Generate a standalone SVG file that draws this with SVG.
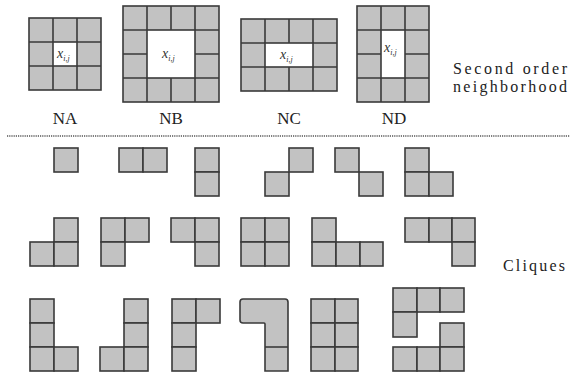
<svg xmlns="http://www.w3.org/2000/svg" width="571" height="373" viewBox="0 0 571 373">
<style>
.c{fill:#c2c2c2;stroke:#3a3a3a;stroke-width:1.6}
.w{fill:#ffffff;stroke:#3a3a3a;stroke-width:1.6}
.lb{font-size:17px;fill:#222;text-anchor:middle}
.rt{font-size:16px;fill:#222}
.xv{font-size:14px;font-style:italic;fill:#333}
.xs{font-size:8px}
.ln{fill:none;stroke:#3a3a3a;stroke-width:1.6}
</style>
<rect width="571" height="373" fill="#ffffff"/>

<g id="NA">
<rect class="c" x="29" y="18" width="72" height="72"/>
<rect class="w" x="53" y="42" width="24" height="24"/>
<path class="ln" d="M53,18V42M77,18V42M53,66V90M77,66V90M29,42H53M29,66H53M77,42H101M77,66H101"/>
<text class="xv" font-family="Liberation Serif, DejaVu Serif, serif" x="57" y="58">x<tspan class="xs" dy="3">i,j</tspan></text>
<text class="lb" font-family="Liberation Serif, DejaVu Serif, serif" x="65" y="124">NA</text>
</g>

<g id="NB">
<rect class="c" x="123" y="6" width="96" height="96"/>
<rect class="w" x="147" y="30" width="48" height="48"/>
<path class="ln" d="M147,6V30M171,6V30M195,6V30M147,78V102M171,78V102M195,78V102M123,30H147M123,54H147M123,78H147M195,30H219M195,54H219M195,78H219"/>
<text class="xv" font-family="Liberation Serif, DejaVu Serif, serif" x="162" y="58">x<tspan class="xs" dy="3">i,j</tspan></text>
<text class="lb" font-family="Liberation Serif, DejaVu Serif, serif" x="171" y="124">NB</text>
</g>

<g id="NC">
<rect class="c" x="241" y="19" width="96" height="72"/>
<rect class="w" x="265" y="43" width="48" height="24"/>
<path class="ln" d="M265,19V43M289,19V43M313,19V43M265,67V91M289,67V91M313,67V91M241,43H265M241,67H265M313,43H337M313,67H337"/>
<text class="xv" font-family="Liberation Serif, DejaVu Serif, serif" x="280" y="59">x<tspan class="xs" dy="3">i,j</tspan></text>
<text class="lb" font-family="Liberation Serif, DejaVu Serif, serif" x="289" y="124">NC</text>
</g>

<g id="ND">
<rect class="c" x="357" y="6" width="72" height="96"/>
<rect class="w" x="381" y="30" width="24" height="48"/>
<path class="ln" d="M381,6V30M405,6V30M381,78V102M405,78V102M357,30H381M357,54H381M357,78H381M405,30H429M405,54H429M405,78H429"/>
<text class="xv" font-family="Liberation Serif, DejaVu Serif, serif" x="384" y="52">x<tspan class="xs" dy="3">i,j</tspan></text>
<text class="lb" font-family="Liberation Serif, DejaVu Serif, serif" x="394" y="124">ND</text>
</g>

<g id="label-second-order">
<text class="rt" font-family="Liberation Serif, DejaVu Serif, serif" x="453" y="74" textLength="114" lengthAdjust="spacing">Second order</text>
<text class="rt" font-family="Liberation Serif, DejaVu Serif, serif" x="453" y="92" textLength="114" lengthAdjust="spacing">neighborhood</text>
</g>

<line x1="7" y1="136" x2="570" y2="136" stroke="#555" stroke-width="1.5" stroke-dasharray="1.2 1"/>

<g id="clique-r1-1"><rect class="c" x="54" y="148" width="24" height="24"/></g>
<g id="clique-r1-2"><rect class="c" x="119" y="148" width="24" height="24"/><rect class="c" x="143" y="148" width="24" height="24"/></g>
<g id="clique-r1-3"><rect class="c" x="195" y="148" width="24" height="24"/><rect class="c" x="195" y="172" width="24" height="24"/></g>
<g id="clique-r1-4"><rect class="c" x="265" y="172" width="24" height="24"/><rect class="c" x="289" y="148" width="24" height="24"/></g>
<g id="clique-r1-5"><rect class="c" x="335" y="148" width="24" height="24"/><rect class="c" x="359" y="172" width="24" height="24"/></g>
<g id="clique-r1-6"><rect class="c" x="405" y="148" width="24" height="24"/><rect class="c" x="405" y="172" width="24" height="24"/><rect class="c" x="429" y="172" width="24" height="24"/></g>

<g id="clique-r2-1"><rect class="c" x="54" y="218" width="24" height="24"/><rect class="c" x="30" y="242" width="24" height="24"/><rect class="c" x="54" y="242" width="24" height="24"/></g>
<g id="clique-r2-2"><rect class="c" x="101" y="218" width="24" height="24"/><rect class="c" x="125" y="218" width="24" height="24"/><rect class="c" x="101" y="242" width="24" height="24"/></g>
<g id="clique-r2-3"><rect class="c" x="171" y="218" width="24" height="24"/><rect class="c" x="195" y="218" width="24" height="24"/><rect class="c" x="195" y="242" width="24" height="24"/></g>
<g id="clique-r2-4"><rect class="c" x="241" y="218" width="24" height="24"/><rect class="c" x="265" y="218" width="24" height="24"/><rect class="c" x="241" y="242" width="24" height="24"/><rect class="c" x="265" y="242" width="24" height="24"/></g>
<g id="clique-r2-5"><rect class="c" x="312" y="218" width="24" height="24"/><rect class="c" x="312" y="242" width="24" height="24"/><rect class="c" x="336" y="242" width="24" height="24"/><rect class="c" x="360" y="242" width="23" height="24"/></g>
<g id="clique-r2-6"><rect class="c" x="405" y="218" width="24" height="24"/><rect class="c" x="429" y="218" width="23" height="24"/><rect class="c" x="452" y="218" width="23" height="24"/><rect class="c" x="452" y="242" width="23" height="24"/></g>

<g id="label-cliques"><text class="rt" font-family="Liberation Serif, DejaVu Serif, serif" x="503" y="271" font-size="17" textLength="62" lengthAdjust="spacing">Cliques</text></g>

<g id="clique-r3-1"><rect class="c" x="30" y="299" width="24" height="24"/><rect class="c" x="30" y="323" width="24" height="24"/><rect class="c" x="30" y="347" width="24" height="24"/><rect class="c" x="54" y="347" width="24" height="24"/></g>
<g id="clique-r3-2"><rect class="c" x="124" y="299" width="24" height="24"/><rect class="c" x="124" y="323" width="24" height="24"/><rect class="c" x="100" y="347" width="24" height="24"/><rect class="c" x="124" y="347" width="24" height="24"/></g>
<g id="clique-r3-3"><rect class="c" x="172" y="299" width="24" height="24"/><rect class="c" x="196" y="299" width="24" height="24"/><rect class="c" x="172" y="323" width="24" height="24"/><rect class="c" x="172" y="347" width="24" height="24"/></g>
<g id="clique-r3-4"><path class="c" d="M243,299H285Q288,299 288,302V371H265V324Q265,323 264,323H243Q240,323 240,320V302Q240,299 243,299Z"/><path class="ln" d="M265,347H288"/></g>
<g id="clique-r3-5"><rect class="c" x="311" y="299" width="24" height="24"/><rect class="c" x="335" y="299" width="23" height="24"/><rect class="c" x="311" y="323" width="24" height="24"/><rect class="c" x="335" y="323" width="23" height="24"/><rect class="c" x="311" y="347" width="24" height="24"/><rect class="c" x="335" y="347" width="23" height="24"/></g>
<g id="clique-r3-6"><rect class="c" x="393" y="288" width="24" height="24"/><rect class="c" x="417" y="288" width="23" height="24"/><rect class="c" x="440" y="288" width="24" height="24"/><rect class="c" x="393" y="312" width="24" height="25"/><rect class="c" x="440" y="323" width="24" height="24"/><rect class="c" x="393" y="347" width="24" height="24"/><rect class="c" x="417" y="347" width="23" height="24"/><rect class="c" x="440" y="347" width="24" height="24"/></g>
</svg>
